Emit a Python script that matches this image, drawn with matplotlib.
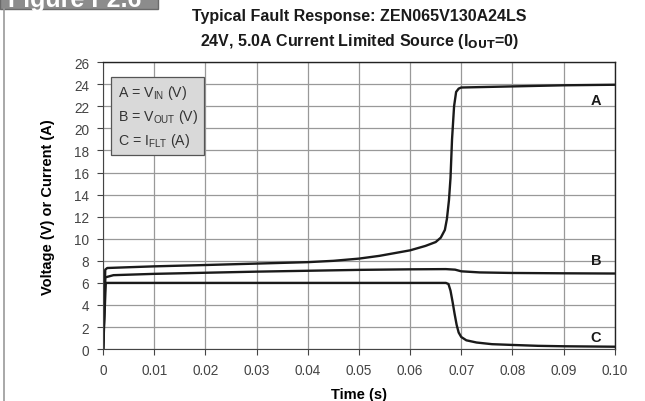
import matplotlib.pyplot as plt
from matplotlib.patches import Rectangle

plt.rcParams['font.family'] = ['Liberation Sans', 'DejaVu Sans']
plt.rcParams['mathtext.fontset'] = 'custom'
plt.rcParams['mathtext.rm'] = 'Liberation Sans'

# ==========================
# DATA
# ==========================

t_a = [0, 0.0004, 0.0008, 0.005, 0.01, 0.02, 0.03, 0.04, 0.045, 0.05, 0.054,
       0.06, 0.063, 0.065, 0.066, 0.0668, 0.0672, 0.0676, 0.0679, 0.0682,
       0.0686, 0.069, 0.0695, 0.070, 0.075, 0.08, 0.085, 0.09, 0.10]
v_a = [0, 7.2, 7.35, 7.42, 7.5, 7.62, 7.75, 7.88, 8.0, 8.2, 8.45,
       8.95, 9.35, 9.7, 10.1, 10.8, 11.8, 13.5, 15.5, 19.0,
       22.0, 23.3, 23.6, 23.7, 23.75, 23.8, 23.85, 23.9, 23.95]

t_b = [0, 0.0004, 0.002, 0.01, 0.02, 0.03, 0.04, 0.05, 0.06, 0.067, 0.0688,
       0.070, 0.0736, 0.08, 0.09, 0.10]
v_b = [0, 6.5, 6.7, 6.82, 6.92, 7.02, 7.1, 7.18, 7.23, 7.25, 7.2,
       7.05, 6.95, 6.9, 6.87, 6.85]

t_c = [0, 0.0005, 0.067, 0.0675, 0.0679, 0.0683, 0.0687, 0.0691, 0.0695,
       0.070, 0.071, 0.073, 0.076, 0.08, 0.085, 0.09, 0.10]
v_c = [0, 6.0, 6.0, 5.9, 5.3, 4.3, 3.2, 2.2, 1.5,
       1.1, 0.8, 0.6, 0.45, 0.38, 0.3, 0.26, 0.22]

x_ticks = [0, 0.01, 0.02, 0.03, 0.04, 0.05, 0.06, 0.07, 0.08, 0.09, 0.10]
x_labels = ["0", "0.01", "0.02", "0.03", "0.04", "0.05", "0.06", "0.07",
            "0.08", "0.09", "0.10"]
y_ticks = list(range(0, 27, 2))

# ==========================
# GRÁFICO
# ==========================

fig = plt.figure(figsize=(6.45, 4.02), dpi=100)
ax = fig.add_axes([0.160, 0.129, 0.793, 0.714])

ax.plot(t_a, v_a, color="#1a1a1a", linewidth=1.7)
ax.plot(t_b, v_b, color="#1a1a1a", linewidth=1.7)
ax.plot(t_c, v_c, color="#1a1a1a", linewidth=1.7)

ax.set_xlim(0, 0.10)
ax.set_ylim(0, 26)
ax.set_xticks(x_ticks)
ax.set_xticklabels(x_labels)
ax.set_yticks(y_ticks)
ax.grid(True, color="#999999", linewidth=0.9)
ax.set_axisbelow(True)
ax.tick_params(direction="out", length=4, color="#444444",
               labelsize=9.8, labelcolor="#444444", pad=6)
for side in ["top", "right"]:
    ax.spines[side].set_color("#222222")
    ax.spines[side].set_linewidth(1.0)
for side in ["left", "bottom"]:
    ax.spines[side].set_color("#444444")
    ax.spines[side].set_linewidth(0.8)

ax.set_xlabel("Time (s)", fontsize=10.5, fontweight="bold", labelpad=7)
ax.set_ylabel("Voltage (V) or Current (A)", fontsize=10.5,
              fontweight="bold", labelpad=14)

fig.text(0.557, 0.958, "Typical Fault Response: ZEN065V130A24LS",
         ha="center", va="center", fontsize=11.5, fontweight="bold",
         color="#1a1a1a")
fig.text(0.557, 0.897, r"24V, 5.0A Current Limited Source (I$_{\mathbf{OUT}}$=0)",
         ha="center", va="center", fontsize=11.5, fontweight="bold",
         color="#1a1a1a")

# trace labels
for lbl, yv in [("A", 22.6), ("B", 8.1), ("C", 1.1)]:
    ax.text(0.0963, yv, lbl, ha="center", va="center", fontsize=10.5,
            fontweight="bold", color="#1a1a1a")

# legend box
leg = ("A = V$_{\\rm IN}$ (V)\n"
       "B = V$_{\\rm OUT}$ (V)\n"
       "C = I$_{\\rm FLT}$ (A)")
ax.text(0.0028, 24.1, leg, ha="left", va="top", fontsize=10.2,
        color="#333333", linespacing=1.45,
        bbox=dict(boxstyle="square,pad=0.45", facecolor="#d9d9d9",
                  edgecolor="#555555", linewidth=0.9))

# figure tab and frame line
fig.patches.append(Rectangle((0, 0.975), 0.245, 0.03, transform=fig.transFigure,
                             facecolor="#8c8c8c", edgecolor="#6a6a6a",
                             linewidth=1.0))
fig.text(0.012, 1.0, "Figure F2.6", ha="left", va="center", fontsize=18,
         fontweight="bold", color="white")
fig.add_artist(plt.Line2D([0.0065, 0.0065], [0, 0.975], transform=fig.transFigure,
                          color="#999999", linewidth=1.2))

plt.savefig("out.png", dpi=100)
